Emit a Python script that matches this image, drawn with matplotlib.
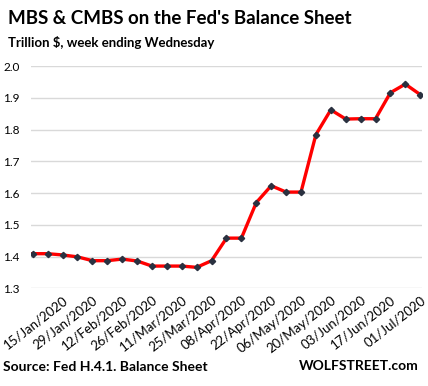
import numpy as np
import pandas as pd
import matplotlib
matplotlib.use("Agg")
import matplotlib.pyplot as plt

# weekly values, Wednesdays 01/Jan/2020 .. 01/Jul/2020
dates = pd.date_range("2020-01-01", "2020-07-01", freq="7D")
mbs = [1.409, 1.409, 1.405, 1.399, 1.387, 1.387, 1.392, 1.386, 1.370,
       1.370, 1.370, 1.366, 1.387, 1.458, 1.458, 1.570, 1.623, 1.603,
       1.603, 1.784, 1.862, 1.833, 1.834, 1.834, 1.916, 1.943, 1.910]
yticks = [1.3, 1.4, 1.5, 1.6, 1.7, 1.8, 1.9, 2.0]

plt.rcParams['font.family'] = ['Lato', 'DejaVu Sans']

fig = plt.figure(figsize=(4.28, 3.86), dpi=100)
ax = fig.add_axes([0.0724, 0.2531, 0.9136, 0.5759])

x = np.arange(len(mbs))
ax.plot(x, mbs, color='#ff0000', lw=2.4, zorder=3)
ax.plot(x, mbs, ls='none', marker='D', ms=3.2, color='#2a3140', zorder=4)

ax.set_ylim(1.3, 2.0)
ax.set_xlim(-0.12, 26.12)
ax.set_yticks(yticks)
ax.set_yticklabels([f"{v:.1f}" for v in yticks], fontsize=8.5)
for lbl in ax.get_yticklabels():
    lbl.set_horizontalalignment('left')
ax.tick_params(axis='y', length=0, pad=20)
ax.grid(axis='y', color='#d9d9d9', lw=1)
ax.set_axisbelow(True)

tick_idx = x[2::2]
ax.set_xticks(tick_idx)
ax.set_xticklabels([dates[i].strftime("%d/%b/%Y") for i in tick_idx],
                   rotation=38, ha='right', rotation_mode='anchor', fontsize=9.5)
ax.tick_params(axis='x', length=0, pad=4)

for s in ax.spines.values():
    s.set_visible(False)

fig.text(0.019, 0.953, "MBS & CMBS on the Fed's Balance Sheet",
         fontsize=13.5, fontweight='bold', va='center')
fig.text(0.019, 0.891, "Trillion $, week ending Wednesday",
         fontsize=9.5, fontweight='bold', va='center')
fig.text(0.007, 0.049, "Source: Fed H.4.1. Balance Sheet",
         fontsize=10, fontweight='bold', va='center')
fig.text(0.977, 0.051, "WOLFSTREET.com",
         fontsize=10, fontweight='bold', va='center', ha='right')

fig.savefig("out.png", dpi=100)
